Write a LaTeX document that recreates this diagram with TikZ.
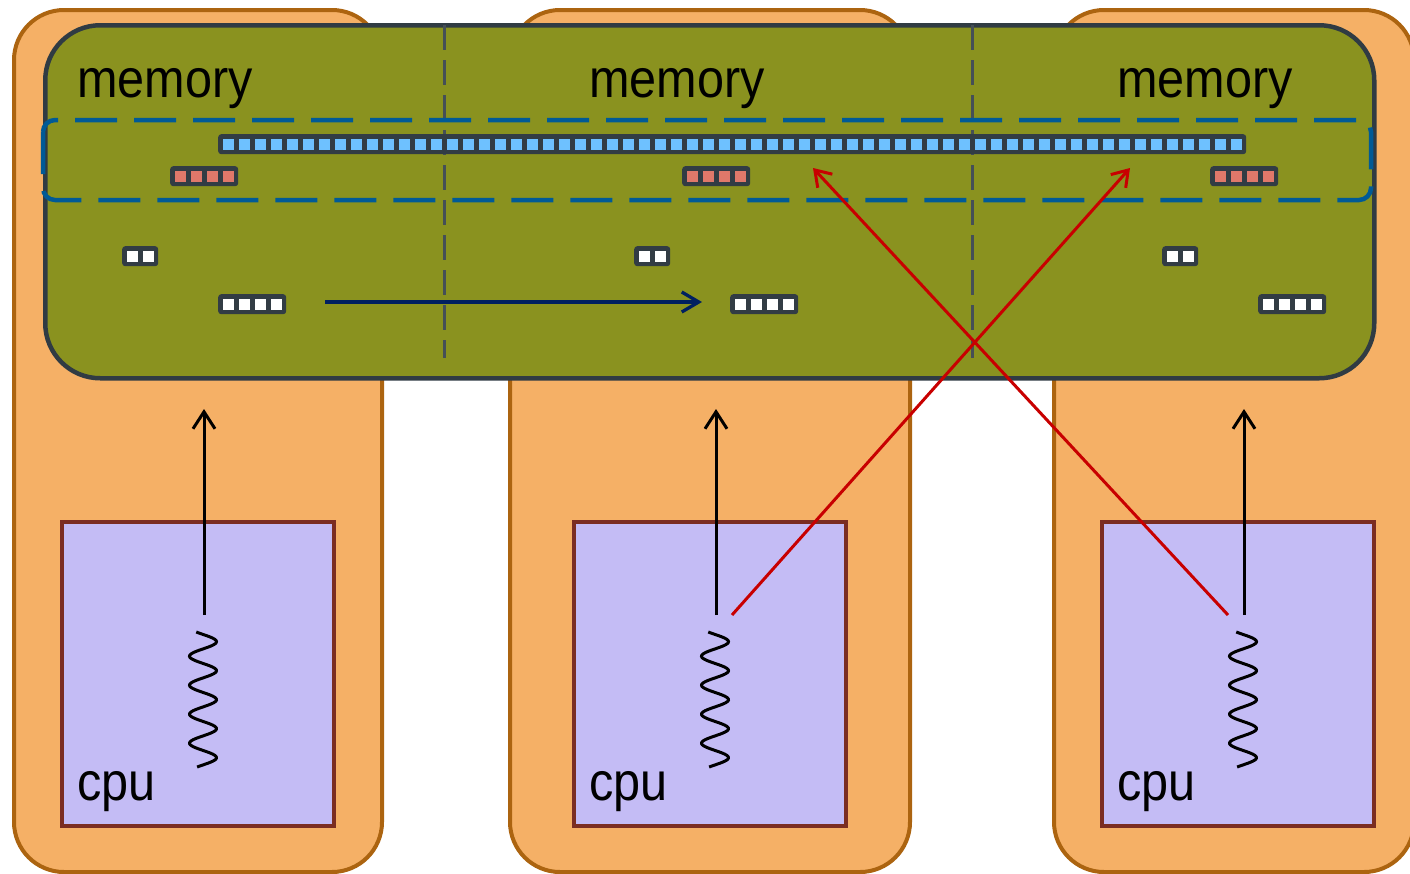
\documentclass[tikz,border=0pt]{standalone}
\usepackage{fontspec}
\setmainfont{Liberation Sans}
\usetikzlibrary{arrows.meta}
\definecolor{orfill}{HTML}{F5B066}
\definecolor{ordraw}{HTML}{AC6410}
\definecolor{memfill}{HTML}{8A921F}
\definecolor{memdraw}{HTML}{303B43}
\definecolor{bluedash}{HTML}{005A96}
\definecolor{cellblue}{HTML}{6EC1FF}
\definecolor{cellred}{HTML}{E0786A}
\definecolor{cellbg}{HTML}{323C44}
\definecolor{cpufill}{HTML}{C4BCF5}
\definecolor{cpudraw}{HTML}{7B2D22}
\definecolor{redarrow}{HTML}{C80000}
\definecolor{navy}{HTML}{002060}
\newcommand\cellrow[5]{%
  \node[cellbox, minimum width={(16*#4+4)*1pt}, anchor=north west] (#1) at (#2,#3) {};
  \foreach \i in {1,...,#4} {\fill[#5] ({#2+4.5+16*(\i-1)},{#3+4.5}) rectangle ++(11,11);}
}
\begin{document}
\begin{tikzpicture}[x=1pt,y=-1pt,
  orangebox/.style={draw=ordraw, fill=orfill, line width=4pt, rounded corners=50pt, anchor=north west, inner sep=0pt},
  membox/.style={draw=memdraw, fill=memfill, line width=4.5pt, rounded corners=55pt, anchor=north west, inner sep=0pt},
  cpubox/.style={draw=cpudraw, fill=cpufill, line width=4pt, anchor=north west, inner sep=0pt, minimum width=272pt, minimum height=304pt},
  cellbox/.style={fill=cellbg, rounded corners=3pt, minimum height=20pt, inner sep=0pt},
  lab/.style={anchor=base west, inner sep=0pt, font=\fontsize{54}{60}\selectfont},
  sepline/.style={draw=memdraw!90!white, line width=3pt, dash pattern=on 25pt off 10pt},
  blueline/.style={draw=bluedash, line width=4.5pt, dash pattern=on 42pt off 17pt, rounded corners=12pt},
  uparrow/.style={line width=3pt, -{Straight Barb[length=17pt,width=22pt]}},
  crossarrow/.style={draw=redarrow, line width=3pt, -{Straight Barb[length=15pt,width=20pt]}},
  navyarrow/.style={draw=navy, line width=3.3pt, -{Straight Barb[length=17pt,width=20pt]}},
  wig/.style={line width=3pt}
]
\useasboundingbox (0,0) rectangle (1410,873);
% nodes
\node[orangebox, minimum width=368pt, minimum height=862pt] (n1) at (12,8) {};
\node[orangebox, minimum width=400pt, minimum height=862pt] (n2) at (508,8) {};
\node[orangebox, minimum width=360pt, minimum height=862pt] (n3) at (1052,8) {};
\node[membox, minimum width=1329pt, minimum height=353pt] (mem) at (43,23) {};
\draw[sepline] (444,25) coordinate (s1a) -- (444,358) coordinate (s1b);
\draw[sepline] (972,25) coordinate (s2a) -- (972,358) coordinate (s2b);
\draw[blueline] (43,120) rectangle (1371,200);
\node[lab] (mt1) at (77,97) {\scalebox{0.9}[1]{memory}};
\node[lab] (mt2) at (589,97) {\scalebox{0.9}[1]{memory}};
\node[lab] (mt3) at (1117,97) {\scalebox{0.9}[1]{memory}};
% cells
\cellrow{bar}{218}{134}{64}{cellblue}
\cellrow{r1}{170}{166}{4}{cellred}
\cellrow{r2}{682}{166}{4}{cellred}
\cellrow{r3}{1210}{166}{4}{cellred}
\cellrow{p1}{122}{246}{2}{white}
\cellrow{p2}{634}{246}{2}{white}
\cellrow{p3}{1162}{246}{2}{white}
\cellrow{q1}{218}{294}{4}{white}
\cellrow{q2}{730}{294}{4}{white}
\cellrow{q3}{1258}{294}{4}{white}
% cpu boxes
\node[cpubox] (c1) at (60,520) {};
\node[cpubox] (c2) at (572,520) {};
\node[cpubox] (c3) at (1100,520) {};
\node[lab] (ct1) at (77,800) {\scalebox{0.9}[1]{cpu}};
\node[lab] (ct2) at (589,800) {\scalebox{0.9}[1]{cpu}};
\node[lab] (ct3) at (1117,800) {\scalebox{0.9}[1]{cpu}};
% wiggles
\foreach \cx in {204,716,1244} {
  \draw[wig] plot[smooth, domain=632:767, samples=140, variable=\t] ({\cx-1 + 13.5*sin((\t-632)/29*360 - 30)}, \t);
}
% coordinates for arrows
\coordinate (a1s) at (204,615); \coordinate (a1e) at (204,409);
\coordinate (a2s) at (716,615); \coordinate (a2e) at (716,409);
\coordinate (a3s) at (1244,615); \coordinate (a3e) at (1244,409);
\coordinate (ns) at (325,302); \coordinate (ne) at (702,302);
\coordinate (x1s) at (732,615); \coordinate (x1e) at (1130,168);
\coordinate (x2s) at (1228,615); \coordinate (x2e) at (813,168);
\draw[uparrow] (a1s) -- (a1e);
\draw[uparrow] (a2s) -- (a2e);
\draw[uparrow] (a3s) -- (a3e);
\draw[navyarrow] (ns) -- (ne);
\draw[crossarrow] (x1s) -- (x1e);
\draw[crossarrow] (x2s) -- (x2e);
\end{tikzpicture}
\end{document}
